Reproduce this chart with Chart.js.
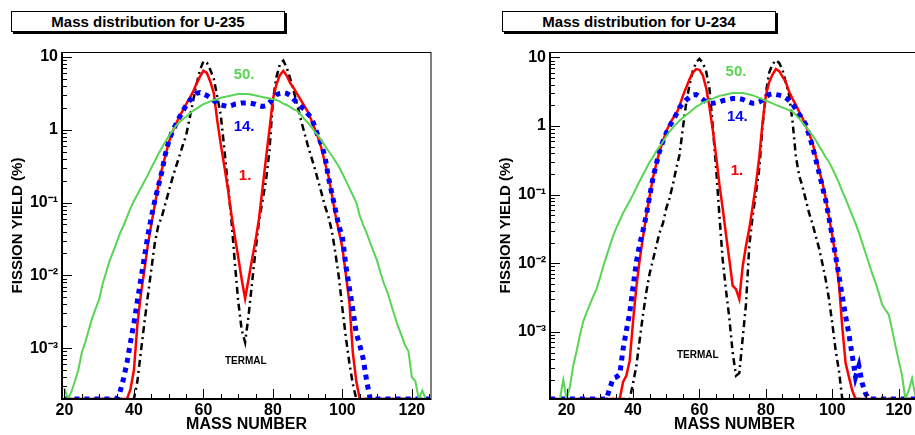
<!DOCTYPE html>
<html>
<head>
<meta charset="utf-8">
<script src="https://cdn.jsdelivr.net/npm/chart.js@4.4.1/dist/chart.umd.min.js"></script>
<style>
  html, body { margin: 0; padding: 0; background: #fff; }
  body { position: relative; width: 915px; height: 435px; overflow: hidden; }
  canvas { position: absolute; top: 0; }
  .title-box {
    position: absolute; top: 11px; width: 272px; height: 19px;
    border: 1px solid #000; box-shadow: 2px 2px 0 #000; background: #fff;
    font: bold 15px "Liberation Sans", Arial, sans-serif; line-height: 19px;
    text-align: center; color: #000;
  }
</style>
</head>
<body>
<div class="title-box" style="left:11px">Mass distribution for U-235</div>
<div class="title-box" style="left:502px">Mass distribution for U-234</div>
<canvas id="chartU235" width="457" height="435" style="left:0"></canvas>
<canvas id="chartU234" width="457" height="435" style="left:488px"></canvas>
<script>
// fission yield (%) per mass number; 0 = empty bin (drawn on the frame bottom)
const MASS_U235 = [
  20, 21, 22, 23, 24, 25, 26, 27, 28, 29,
  30, 31, 32, 33, 34, 35, 36, 37, 38, 39,
  40, 41, 42, 43, 44, 45, 46, 47, 48, 49,
  50, 51, 52, 53, 54, 55, 56, 57, 58, 59,
  60, 61, 62, 63, 64, 65, 66, 67, 68, 69,
  70, 71, 72, 73, 74, 75, 76, 77, 78, 79,
  80, 81, 82, 83, 84, 85, 86, 87, 88, 89,
  90, 91, 92, 93, 94, 95, 96, 97, 98, 99,
  100, 101, 102, 103, 104, 105, 106, 107, 108, 109,
  110, 111, 112, 113, 114, 115, 116, 117, 118, 119,
  120, 121, 122, 123, 124, 125
];
const termal235 = [
  0, 0, 0, 0, 0, 0, 0, 0, 0, 0,
  0, 0, 0, 0, 0, 0, 0, 0, 0, 0,
  0, 3.5e-4, 8.9e-4, 2.2e-3, 5.2e-3, 0.012, 0.0275, 0.048, 0.063, 0.095,
  0.14, 0.21, 0.30, 0.42, 0.60, 0.83, 1.41, 2.45, 4.17, 6.61,
  8.71, 8.32, 6.61, 5.01, 2.82, 1.58, 0.56, 0.178, 0.063, 0.0158,
  0.0045, 0.0018, 0.0012, 0.0028, 0.0079, 0.022, 0.056, 0.105, 0.20, 0.51,
  2.51, 5.25, 7.94, 8.91, 7.08, 5.01, 3.39, 2.19, 1.41, 0.93,
  0.62, 0.43, 0.30, 0.20, 0.135, 0.089, 0.063, 0.040, 0.020, 0.0093,
  0.0035, 0.0014, 6.3e-4, 3.2e-4, 0, 0, 0, 0, 0, 0,
  0, 0, 0, 0, 0, 0, 0, 0, 0, 0,
  0, 0, 0, 0, 0, 0
];
const e1_235 = [
  0, 0, 0, 0, 0, 0, 0, 0, 0, 0,
  0, 0, 0, 0, 0, 0, 0, 0, 0, 2.7e-4,
  5.0e-4, 2.1e-3, 5.5e-3, 0.0117, 0.026, 0.050, 0.093, 0.17, 0.28, 0.43,
  0.66, 0.91, 1.17, 1.48, 1.82, 2.24, 2.69, 3.31, 4.27, 5.37,
  6.46, 6.03, 4.57, 3.16, 1.32, 0.63, 0.32, 0.16, 0.071, 0.035,
  0.018, 0.0089, 0.0048, 0.0089, 0.0166, 0.030, 0.060, 0.155, 0.40, 1.0,
  2.63, 4.17, 5.62, 6.46, 5.5, 4.37, 3.72, 3.09, 2.57, 2.14,
  1.78, 1.38, 1.05, 0.78, 0.55, 0.35, 0.23, 0.126, 0.068, 0.040,
  0.024, 0.0102, 0.0043, 8.7e-4, 3.5e-4, 0, 0, 0, 0, 0,
  0, 0, 0, 0, 0, 0, 0, 0, 0, 0,
  0, 0, 0, 0, 0, 0
];
const e14_235 = [
  0, 0, 0, 0, 0, 0, 0, 0, 0, 0,
  0, 0, 0, 0, 0, 0, 2.5e-4, 3.8e-4, 6.3e-4, 1.2e-3,
  2.2e-3, 4.5e-3, 8.9e-3, 0.0178, 0.035, 0.063, 0.105, 0.166, 0.26, 0.45,
  0.69, 0.93, 1.17, 1.45, 1.78, 2.14, 2.51, 2.82, 3.16, 3.24,
  3.09, 2.95, 2.75, 2.51, 2.29, 2.19, 2.14, 2.09, 2.14, 2.24,
  2.29, 2.34, 2.34, 2.34, 2.29, 2.24, 2.14, 2.09, 2.14, 2.34,
  2.69, 3.02, 3.16, 3.24, 3.16, 2.95, 2.63, 2.34, 2.09, 1.91,
  1.66, 1.48, 1.12, 0.81, 0.63, 0.42, 0.22, 0.132, 0.079, 0.047,
  0.034, 0.0135, 0.0068, 0.0034, 0.0016, 0.0011, 7.1e-4, 3.5e-4, 0, 0,
  0, 0, 0, 0, 0, 0, 0, 0, 0, 0,
  0, 0, 0, 0, 0, 0
];
const e50_235 = [
  2.8e-4, 0, 2.5e-4, 3.5e-4, 5.0e-4, 8.7e-4, 1.2e-3, 1.78e-3, 2.6e-3, 3.5e-3,
  4.7e-3, 7.6e-3, 0.011, 0.0158, 0.021, 0.028, 0.038, 0.048, 0.063, 0.083,
  0.105, 0.129, 0.158, 0.195, 0.24, 0.30, 0.37, 0.46, 0.56, 0.68,
  0.81, 0.95, 1.12, 1.26, 1.38, 1.51, 1.66, 1.82, 1.95, 2.09,
  2.24, 2.34, 2.45, 2.57, 2.63, 2.75, 2.82, 2.88, 2.95, 3.02,
  3.09, 3.09, 3.09, 3.09, 3.02, 2.95, 2.88, 2.82, 2.75, 2.69,
  2.63, 2.57, 2.45, 2.29, 2.19, 2.04, 1.91, 1.82, 1.62, 1.41,
  1.26, 1.10, 0.95, 0.83, 0.71, 0.60, 0.51, 0.44, 0.37, 0.31,
  0.25, 0.20, 0.158, 0.126, 0.10, 0.066, 0.049, 0.038, 0.028, 0.021,
  0.0158, 0.0107, 0.0076, 0.0058, 0.0040, 0.0028, 0.0020, 0.0015, 0.0011, 9.1e-4,
  4.0e-4, 3.5e-4, 0, 2.6e-4, 0, 0
];

const MASS_U234 = [
  15, 16, 17, 18, 19,
  20, 21, 22, 23, 24, 25, 26, 27, 28, 29,
  30, 31, 32, 33, 34, 35, 36, 37, 38, 39,
  40, 41, 42, 43, 44, 45, 46, 47, 48, 49,
  50, 51, 52, 53, 54, 55, 56, 57, 58, 59,
  60, 61, 62, 63, 64, 65, 66, 67, 68, 69,
  70, 71, 72, 73, 74, 75, 76, 77, 78, 79,
  80, 81, 82, 83, 84, 85, 86, 87, 88, 89,
  90, 91, 92, 93, 94, 95, 96, 97, 98, 99,
  100, 101, 102, 103, 104, 105, 106, 107, 108, 109,
  110, 111, 112, 113, 114, 115, 116, 117, 118, 119,
  120, 121, 122, 123, 124, 125
];
const termal234 = [
  0, 0, 0, 0, 0,
  0, 0, 0, 0, 0, 0, 0, 0, 0, 0,
  0, 0, 0, 0, 0, 0, 0, 0, 0, 0,
  1.78e-4, 3.2e-4, 7.6e-4, 1.78e-3, 3.8e-3, 7.1e-3, 0.0112, 0.0178, 0.028, 0.038,
  0.063, 0.089, 0.141, 0.24, 0.38, 0.93, 2.14, 3.98, 6.31, 8.51,
  9.55, 8.32, 6.31, 3.55, 1.0, 0.25, 0.050, 0.0112, 0.0040, 0.00158,
  5.0e-4, 2.3e-4, 2.5e-4, 7.9e-4, 2.5e-3, 0.0178, 0.048, 0.105, 0.24, 1.0,
  3.02, 6.03, 7.94, 9.12, 8.32, 6.61, 4.27, 2.82, 1.20, 0.37,
  0.19, 0.132, 0.085, 0.054, 0.038, 0.025, 0.0166, 0.010, 0.0058, 0.0030,
  0.00132, 5.4e-4, 2.7e-4, 0, 0, 0, 0, 0, 0, 0,
  0, 0, 0, 0, 0, 0, 0, 0, 0, 0,
  0, 0, 0, 0, 0, 0
];
const e1_234 = [
  0, 0, 0, 0, 0,
  0, 0, 0, 0, 0, 0, 0, 0, 0, 0,
  0, 0, 0, 0, 0, 0, 0, 1.86e-4, 2.3e-4, 3.8e-4,
  1.41e-3, 4.5e-3, 0.0112, 0.024, 0.050, 0.095, 0.178, 0.28, 0.43, 0.60,
  0.83, 1.07, 1.29, 1.51, 1.95, 2.75, 3.63, 4.79, 6.03, 6.76,
  6.61, 5.5, 3.63, 1.91, 0.89, 0.37, 0.141, 0.063, 0.026, 0.0112,
  0.0047, 0.0042, 0.0030, 0.0089, 0.0178, 0.032, 0.066, 0.141, 0.35, 1.12,
  2.82, 4.37, 5.62, 6.76, 6.31, 5.25, 4.37, 3.16, 2.51, 2.04,
  1.62, 1.32, 1.0, 0.78, 0.58, 0.37, 0.23, 0.151, 0.089, 0.047,
  0.025, 0.0126, 0.0050, 0.00117, 3.5e-4, 2.2e-4, 1.4e-4, 0, 0, 0,
  0, 0, 0, 0, 0, 0, 0, 0, 0, 0,
  0, 0, 0, 0, 0, 0
];
const e14_234 = [
  0, 0, 0, 0, 0,
  0, 0, 0, 0, 0, 0, 0, 0, 0, 0,
  0, 0, 0, 1.5e-4, 2.1e-4, 2.2e-4, 2.4e-4, 5.6e-4, 1.05e-3, 1.9e-3,
  4.5e-3, 0.0105, 0.019, 0.030, 0.050, 0.095, 0.174, 0.28, 0.43, 0.60,
  0.79, 1.0, 1.20, 1.48, 1.86, 2.14, 2.40, 2.63, 2.82, 2.88,
  2.69, 2.45, 2.24, 2.14, 2.14, 2.19, 2.24, 2.34, 2.40, 2.45,
  2.51, 2.51, 2.51, 2.45, 2.34, 2.24, 2.14, 2.14, 2.24, 2.40,
  2.63, 2.88, 2.95, 2.88, 2.82, 2.75, 2.57, 2.34, 2.09, 1.78,
  1.48, 1.29, 1.05, 0.74, 0.51, 0.33, 0.21, 0.132, 0.083, 0.046,
  0.024, 0.0126, 0.0066, 0.0033, 0.0017, 9.3e-4, 4.5e-4, 2.2e-4, 3.2e-4, 1.78e-4,
  1.26e-4, 0, 0, 0, 0, 0, 0, 0, 0, 0,
  0, 0, 0, 0, 0, 0
];
const e50_234 = [
  0, 0, 0, 0, 2.0e-4,
  0, 1.6e-4, 3.2e-4, 5.2e-4, 8.9e-4, 1.41e-3, 1.9e-3, 2.5e-3, 3.3e-3, 4.2e-3,
  6.0e-3, 8.9e-3, 0.0126, 0.0178, 0.025, 0.033, 0.042, 0.054, 0.066, 0.081,
  0.10, 0.126, 0.158, 0.195, 0.24, 0.30, 0.35, 0.43, 0.50, 0.59,
  0.71, 0.83, 0.95, 1.07, 1.20, 1.32, 1.45, 1.58, 1.74, 1.91,
  2.04, 2.19, 2.29, 2.40, 2.51, 2.63, 2.75, 2.82, 2.88, 2.95,
  3.02, 3.02, 3.02, 3.02, 2.95, 2.88, 2.82, 2.69, 2.57, 2.45,
  2.34, 2.24, 2.14, 2.04, 1.95, 1.86, 1.78, 1.70, 1.62, 1.45,
  1.29, 1.12, 0.98, 0.85, 0.74, 0.62, 0.51, 0.43, 0.35, 0.30,
  0.24, 0.19, 0.148, 0.112, 0.087, 0.066, 0.050, 0.038, 0.028, 0.020,
  0.0141, 0.010, 0.0071, 0.0052, 0.0037, 0.0025, 0.0021, 0.00178, 0.00107, 6.3e-4,
  3.8e-4, 2.3e-4, 0, 1.4e-4, 2.1e-4, 1.17e-4
];

// axis labels
const X_TICK_LABELS = [20, 40, 60, 80, 100, 120];
const Y_TICK_VALUES = [0.001, 0.01, 0.1, 1, 10];
const Y_TICK_LABELS = ['10\u207B\u00B3', '10\u207B\u00B2', '10\u207B\u00B9', '1', '10'];

const GREEN = '#59d454';
const FONT = '"Liberation Sans", Arial, sans-serif';
Chart.defaults.font.family = FONT;
Chart.defaults.color = '#000';

function toPoints(mass, values, floor) {
  return mass.map((m, i) => ({ x: m, y: values[i] > 0 ? values[i] : floor }));
}

function isDecade(v) {
  return Math.abs(Math.log10(v) - Math.round(Math.log10(v))) < 1e-9;
}

function xTicks(scale) {
  const out = [];
  for (let v = Math.ceil(scale.min / 5) * 5; v <= scale.max; v += 5) out.push({ value: v });
  scale.ticks = out;
}

function yTicks(scale) {
  const out = [];
  const lo = Math.floor(Math.log10(scale.min));
  const hi = Math.ceil(Math.log10(scale.max));
  for (let e = lo; e <= hi; e++) {
    for (let k = 1; k <= 9; k++) {
      const v = k * Math.pow(10, e);
      if (v >= scale.min && v <= scale.max) out.push({ value: v });
    }
  }
  scale.ticks = out;
}

// ROOT style frame with ticks pointing into the pad
const insideTicks = {
  id: 'insideTicks',
  afterDraw(chart) {
    const { ctx, chartArea: area, scales: { x, y } } = chart;
    ctx.save();
    ctx.strokeStyle = '#000';
    ctx.lineWidth = 1;
    ctx.beginPath();
    x.ticks.forEach(t => {
      const px = Math.round(x.getPixelForValue(t.value)) + 0.5;
      const len = X_TICK_LABELS.includes(t.value) ? 10 : 5;
      ctx.moveTo(px, area.bottom);
      ctx.lineTo(px, area.bottom - len);
    });
    y.ticks.forEach(t => {
      const py = Math.round(y.getPixelForValue(t.value)) + 0.5;
      const len = isDecade(t.value) ? 10 : 5;
      ctx.moveTo(area.left, py);
      ctx.lineTo(area.left + len, py);
    });
    ctx.stroke();
    ctx.strokeRect(area.left, area.top + 0.5, area.width, area.height);
    ctx.lineWidth = 2;
    ctx.beginPath();
    ctx.moveTo(area.left, area.top);
    ctx.lineTo(area.left, area.bottom);
    ctx.lineTo(area.right, area.bottom);
    ctx.stroke();
    ctx.restore();
  }
};

const curveLabels = {
  id: 'curveLabels',
  afterDatasetsDraw(chart, args, opts) {
    const { ctx, scales: { x, y } } = chart;
    ctx.save();
    ctx.textAlign = 'center';
    ctx.textBaseline = 'middle';
    (opts.items || []).forEach(it => {
      ctx.font = `bold ${it.size}px ${FONT}`;
      ctx.fillStyle = it.color;
      ctx.fillText(it.text, x.getPixelForValue(it.x), y.getPixelForValue(it.y));
    });
    ctx.restore();
  }
};

function createMassChart(id, cfg) {
  const ctx = document.getElementById(id).getContext('2d');
  return new Chart(ctx, {
    type: 'line',
    data: {
      datasets: [
        { label: '50.', data: toPoints(cfg.mass, cfg.e50, cfg.yMin), borderColor: GREEN, borderWidth: 2, order: 0 },
        { label: '14.', data: toPoints(cfg.mass, cfg.e14, cfg.yMin), borderColor: '#0000ff', borderWidth: 5, borderDash: [5, 5], order: 1 },
        { label: '1.', data: toPoints(cfg.mass, cfg.e1, cfg.yMin), borderColor: '#ff0000', borderWidth: 2.5, order: 2 },
        { label: 'TERMAL', data: toPoints(cfg.mass, cfg.termal, cfg.yMin), borderColor: '#000000', borderWidth: 2.5, borderDash: [7, 4, 2, 4], order: 3 }
      ]
    },
    options: {
      responsive: false,
      animation: false,
      devicePixelRatio: 1,
      layout: { padding: { top: 52, right: 26, left: 0, bottom: 0 } },
      elements: { point: { radius: 0 }, line: { tension: 0, fill: false } },
      plugins: {
        legend: { display: false },
        tooltip: { enabled: false },
        curveLabels: { items: cfg.labels }
      },
      scales: {
        x: {
          type: 'linear',
          min: cfg.xMin,
          max: cfg.xMax,
          bounds: 'data',
          grid: { display: false, drawTicks: false },
          border: { display: false },
          afterBuildTicks: xTicks,
          afterFit: s => { s.height = 36; },
          ticks: {
            autoSkip: false, maxRotation: 0, padding: 2,
            font: { size: 16, weight: 'bold' },
            callback: v => X_TICK_LABELS.includes(v) ? String(v) : ''
          },
          title: {
            display: true, text: 'MASS NUMBER',
            font: { size: 16, weight: 'bold' },
            padding: { top: 0, bottom: 1 }
          }
        },
        y: {
          type: 'logarithmic',
          min: cfg.yMin,
          max: cfg.yMax,
          bounds: 'data',
          grid: { display: false, drawTicks: false },
          border: { display: false },
          afterBuildTicks: yTicks,
          afterFit: s => { s.width = 62; },
          ticks: {
            autoSkip: false, padding: 4,
            font: { size: 16, weight: 'bold' },
            callback: v => {
              const i = Y_TICK_VALUES.findIndex(t => Math.abs(v / t - 1) < 1e-6);
              return i >= 0 ? Y_TICK_LABELS[i] : '';
            }
          },
          title: {
            display: true, text: 'FISSION YIELD (%)',
            font: { size: 15, weight: 'bold' },
            padding: { top: 9, bottom: 0 }
          }
        }
      }
    },
    plugins: [insideTicks, curveLabels]
  });
}

createMassChart('chartU235', {
  mass: MASS_U235, termal: termal235, e1: e1_235, e14: e14_235, e50: e50_235,
  xMin: 19.3, xMax: 125.5, yMin: 2e-4, yMax: 11.7,
  labels: [
    { text: '50.', x: 71.7, y: 5.6, color: GREEN, size: 15 },
    { text: '14.', x: 71.7, y: 1.1, color: '#0000ff', size: 15 },
    { text: '1.', x: 72, y: 0.23, color: '#ff0000', size: 15 },
    { text: 'TERMAL', x: 72.2, y: 6.6e-4, color: '#000000', size: 10 }
  ]
});

createMassChart('chartU234', {
  mass: MASS_U234, termal: termal234, e1: e1_234, e14: e14_234, e50: e50_234,
  xMin: 15, xMax: 126.1, yMin: 1.05e-4, yMax: 12,
  labels: [
    { text: '50.', x: 71, y: 6.1, color: GREEN, size: 15 },
    { text: '14.', x: 71.4, y: 1.35, color: '#0000ff', size: 15 },
    { text: '1.', x: 71.3, y: 0.22, color: '#ff0000', size: 15 },
    { text: 'TERMAL', x: 59.5, y: 4.6e-4, color: '#000000', size: 10 }
  ]
});
</script>
</body>
</html>
